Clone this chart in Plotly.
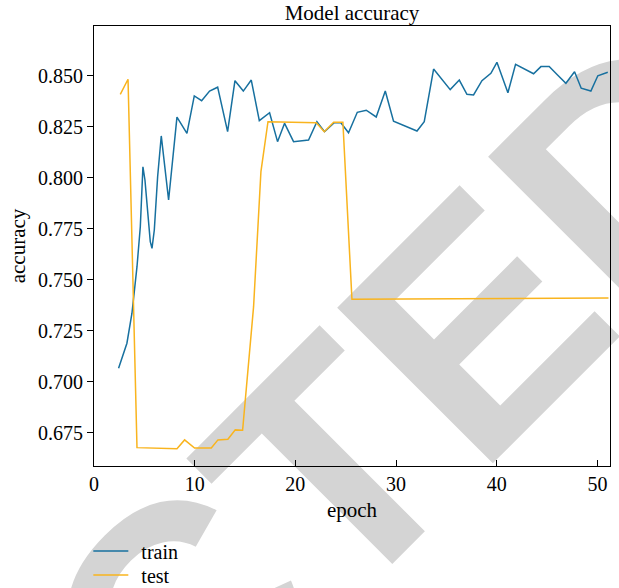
import plotly.graph_objects as go

# Training history: accuracy per epoch
train_epoch = [2.44, 3.27, 3.77, 4.27, 4.60, 4.73, 4.86, 5.06, 5.36, 5.59, 5.76, 5.99,
               6.32, 6.68, 7.41, 8.24, 9.23, 9.96, 10.69, 11.48, 12.28, 13.27, 14.00,
               14.83, 15.62, 16.42, 17.44, 18.23, 18.93, 19.82, 21.31, 22.14, 22.90,
               23.86, 24.52, 25.28, 26.15, 27.04, 28.03, 28.93, 29.75, 32.08, 32.80,
               33.73, 35.38, 36.28, 37.04, 37.70, 38.53, 39.42, 40.02, 41.11, 41.87,
               43.66, 44.39, 45.21, 46.04, 46.87, 47.73, 48.39, 49.35, 50.04, 51.03]
train_acc = [0.7067, 0.7190, 0.7337, 0.7565, 0.7761, 0.7957, 0.8055, 0.7990, 0.7810,
             0.7688, 0.7655, 0.7745, 0.8006, 0.8206, 0.7892, 0.8298, 0.8219, 0.8402,
             0.8379, 0.8426, 0.8445, 0.8227, 0.8477, 0.8426, 0.8480, 0.8281, 0.8320,
             0.8178, 0.8268, 0.8178, 0.8186, 0.8276, 0.8227, 0.8271, 0.8271, 0.8222,
             0.8322, 0.8332, 0.8299, 0.8426, 0.8278, 0.8230, 0.8276, 0.8534, 0.8433,
             0.8480, 0.8410, 0.8407, 0.8477, 0.8513, 0.8567, 0.8418, 0.8557, 0.8511,
             0.8546, 0.8546, 0.8505, 0.8464, 0.8521, 0.8440, 0.8426, 0.8501, 0.8518]

test_epoch = [2.61, 3.38, 4.27, 8.24, 9.00, 9.99, 11.65, 12.31, 13.30, 14.03, 14.76,
              15.85, 16.58, 17.28, 22.08, 22.87, 23.80, 24.72, 25.62, 51.10]
test_acc = [0.8410, 0.8484, 0.6678, 0.6673, 0.6716, 0.6676, 0.6676, 0.6716, 0.6719,
            0.6765, 0.6763, 0.7369, 0.8031, 0.8276, 0.8271, 0.8227, 0.8273, 0.8273,
            0.7405, 0.7412]

series_names = ["train", "test"]

y_ticks = [0.675, 0.700, 0.725, 0.750, 0.775, 0.800, 0.825, 0.850]
x_ticks = [0, 10, 20, 30, 40, 50]

SERIF = "Liberation Serif"
GAP = "\u2009\u2009"  # small gap between legend line and label

fig = go.Figure()
fig.add_trace(go.Scatter(x=train_epoch, y=train_acc, mode="lines",
                         name=GAP + series_names[0], legend="legend", showlegend=True,
                         line=dict(color="#17709f", width=1.5)))
fig.add_trace(go.Scatter(x=test_epoch, y=test_acc, mode="lines",
                         name=GAP + series_names[1], legend="legend2", showlegend=True,
                         line=dict(color="#f9b41e", width=1.5)))

# Large grey stamp lying underneath the plot
stamp_x, stamp_y = -0.1925, -0.673
fig.add_shape(type="rect", xref="paper", yref="paper",
              x0=stamp_x - 0.01, x1=stamp_x + 0.01, y0=stamp_y - 0.01, y1=stamp_y + 0.01,
              line=dict(width=0), fillcolor="rgba(0,0,0,0)", layer="below",
              label=dict(text="RETRACTED", textangle=-45, textposition="middle center",
                         font=dict(family="Liberation Sans", size=320, color="#d4d4d4",
                                   weight="bold")))

axis_common = dict(showline=True, linecolor="black", linewidth=1, mirror=True,
                   showgrid=False, zeroline=False, ticklen=6, tickcolor="black",
                   tickwidth=1, tickfont=dict(family=SERIF, size=20, color="black"))

fig.update_xaxes(range=[0, 51.25], tickvals=x_ticks, ticks="inside",
                 title=dict(text="epoch", font=dict(family=SERIF, size=21, color="black"),
                            standoff=8),
                 **axis_common)
fig.update_yaxes(range=[0.6588, 0.8745], tickvals=y_ticks, tickformat=".3f",
                 ticks="outside",
                 title=dict(text="accuracy", font=dict(family=SERIF, size=21, color="black"),
                            standoff=6),
                 **axis_common)

legend_style = dict(x=-0.011, xanchor="left", yanchor="middle", itemwidth=35,
                    bgcolor="rgba(0,0,0,0)",
                    font=dict(family=SERIF, size=20, color="black"))

fig.update_layout(
    width=619, height=588,
    showlegend=True,
    margin=dict(l=94, r=9, t=26, b=122, autoexpand=False),
    paper_bgcolor="white", plot_bgcolor="white",
    title=dict(text="Model accuracy", x=0.5, xref="paper", y=1 - 13 / 588,
               yanchor="middle", font=dict(family=SERIF, size=21, color="black")),
    legend=dict(y=-0.193, **legend_style),
    legend2=dict(y=-0.2477, **legend_style),
)

fig.write_html("out.html")
